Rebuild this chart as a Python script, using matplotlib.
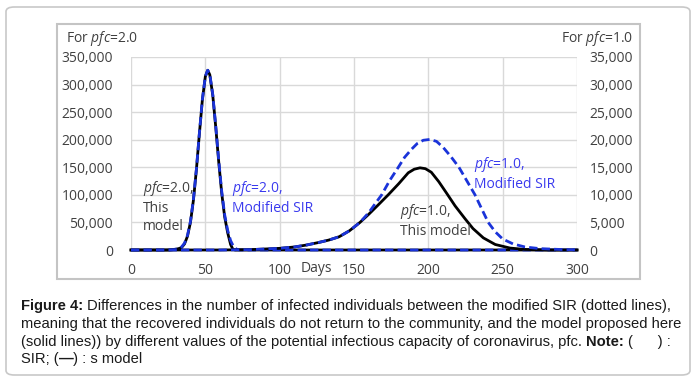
import matplotlib
matplotlib.use('Agg')
import matplotlib.pyplot as plt
from matplotlib.patches import Rectangle, FancyBboxPatch

plt.rcParams['font.family'] = ['Open Sans', 'DejaVu Sans']
plt.rcParams['mathtext.fontset'] = 'custom'
plt.rcParams['mathtext.rm'] = 'Open Sans'
plt.rcParams['mathtext.it'] = 'Open Sans:italic'

# pfc = 2.0 (left axis)
days_model2 = [0, 20, 24, 26, 28, 30, 32, 34, 36, 38, 40, 42, 44, 46, 48, 50, 51.6,
               53, 55, 57, 59, 61, 63, 65, 67, 68.5, 70, 300]
model2 = [0, 0, 0, 150, 500, 1200, 2500, 4400, 11000, 25000, 50300, 90600, 146000,
          211000, 272000, 314600, 326000, 317800, 280600, 223000, 160000, 103400,
          60100, 31600, 10000, 1500, 0, 0]
days_sir2 = [0, 20, 24, 26, 28, 30, 32, 34, 36, 38, 40, 42, 44, 46, 48, 50, 51.6,
             53, 55, 57, 59, 61, 63, 65, 67, 69, 71, 73, 300]
sir2 = [0, 0, 100, 300, 700, 1600, 3000, 5500, 12500, 26500, 52000, 92000, 147000,
        212000, 273000, 315000, 326000, 318500, 282000, 225000, 163000, 107000,
        64000, 36000, 17000, 6000, 1500, 0, 0]

# pfc = 1.0 (right axis)
days_model1 = [0, 60, 80, 100, 110, 118, 126, 133, 140, 147, 154, 160, 166, 173, 180,
               186.5, 190.5, 194.4, 198, 202, 207, 212.3, 218, 224.6, 230, 237, 245,
               255, 265, 280, 300]
model1 = [0, 0, 60, 300, 550, 900, 1350, 1800, 2400, 3500, 5000, 6500, 8100, 10000,
          12000, 14000, 14650, 14900, 14750, 14100, 12400, 10300, 8000, 5700, 3900,
          2200, 1000, 350, 100, 0, 0]
days_sir1 = [0, 60, 80, 100, 110, 118, 126, 133, 140, 147, 154, 160, 164, 168.6, 174,
             179.8, 184, 188.8, 192.5, 196.6, 201, 205.5, 210, 215, 220.6, 226, 231.4,
             236, 240.3, 245, 250, 257, 265, 275, 290, 300]
sir1 = [0, 0, 60, 300, 550, 900, 1350, 1800, 2400, 3500, 5000, 6800, 8300, 10000,
        12600, 15000, 16800, 18300, 19300, 19900, 20050, 19700, 18600, 17000, 15000,
        12500, 10000, 7400, 5000, 3300, 2000, 1100, 550, 250, 80, 40]

left_ticks = [0, 50000, 100000, 150000, 200000, 250000, 300000, 350000]
right_ticks = [0, 5000, 10000, 15000, 20000, 25000, 30000, 35000]
x_ticks = [0, 50, 100, 150, 200, 250, 300]

black = '#000000'
blue = '#1a33d9'
blue_txt = '#3a3aee'
txt = '#404040'

fig = plt.figure(figsize=(6.96, 3.80), dpi=100)

# outer rounded frame and inner chart frame
fig.patches.append(FancyBboxPatch((6 / 696, 5 / 380), 684 / 696, 368 / 380,
                                  boxstyle='round,pad=0,rounding_size=0.012',
                                  transform=fig.transFigure, fill=False,
                                  edgecolor='#c8c8c8', linewidth=1.2))
fig.patches.append(Rectangle((57 / 696, 101 / 380), 583 / 696, 255 / 380,
                             transform=fig.transFigure, fill=False,
                             edgecolor='#c4c4c4', linewidth=1.5))

ax = fig.add_axes([131 / 696, 130 / 380, 446 / 696, 193 / 380])
ax2 = ax.twinx()

ax.plot(days_model2, model2, color=black, lw=2.0, clip_on=False, zorder=3)
ax.plot(days_sir2, sir2, color=blue, lw=2.0, ls=(0, (3, 1.5)), clip_on=False, zorder=4)
ax2.plot(days_model1, model1, color=black, lw=2.0, clip_on=False, zorder=3)
ax2.plot(days_sir1, sir1, color=blue, lw=2.0, ls=(0, (3, 1.5)), clip_on=False, zorder=4)

ax.set_xlim(0, 300)
ax.set_ylim(0, 350000)
ax2.set_ylim(0, 35000)
ax.set_xticks(x_ticks)
ax.set_yticks(left_ticks)
ax2.set_yticks(right_ticks)
ax.set_yticklabels([f'{v:,}' for v in left_ticks])
ax2.set_yticklabels([f'{v:,}' for v in right_ticks])
ax.grid(True, color='#d9d9d9', lw=1.0)
ax.set_axisbelow(True)
for a in (ax, ax2):
    for s in a.spines.values():
        s.set_visible(False)
ax.tick_params(axis='both', length=0, labelsize=10, colors=txt)
ax.tick_params(axis='y', pad=13)
ax.tick_params(axis='x', pad=9)
ax2.tick_params(axis='y', length=0, labelsize=10, colors=txt, pad=9)

ax.text(125, -0.055, 'Days', transform=ax.get_xaxis_transform(), ha='center',
        va='top', fontsize=10, color=txt)

fig.text(66 / 696, 1 - 39 / 380, r'For $\mathit{pfc}$=2.0', ha='left', va='center',
         fontsize=10, color=txt)
fig.text(633 / 696, 1 - 39 / 380, r'For $\mathit{pfc}$=1.0', ha='right', va='center',
         fontsize=10, color=txt)

# curve labels
fig.text(143 / 696, 1 - 179 / 380, '$\\mathit{pfc}$=2.0,\nThis\nmodel',
         ha='left', va='top', fontsize=10, color=txt, linespacing=1.25)
fig.text(232 / 696, 1 - 179 / 380, '$\\mathit{pfc}$=2.0,\nModified SIR',
         ha='left', va='top', fontsize=10, color=blue_txt, linespacing=1.25)
fig.text(474 / 696, 1 - 155 / 380, '$\\mathit{pfc}$=1.0,\nModified SIR',
         ha='left', va='top', fontsize=10, color=blue_txt, linespacing=1.25)
fig.text(400 / 696, 1 - 202 / 380, '$\\mathit{pfc}$=1.0,\nThis model',
         ha='left', va='top', fontsize=10, color=txt, linespacing=1.25)

# caption, bold and normal pieces placed one after the other
cap_font = ['Liberation Sans', 'DejaVu Sans']
cap_size = 10.6
cap_color = '#1a1a1a'
lines = [
    [('Figure 4:', 'bold'), ('Differences in the number of infected individuals between the modified SIR (dotted lines),', 'normal')],
    [('meaning that the recovered individuals do not return to the community, and the model proposed here', 'normal')],
    [('(solid lines)) by different values of the potential infectious capacity of coronavirus, pfc.', 'normal'),
     ('Note:', 'bold'), ('(      ) :', 'normal')],
    [('SIR; (', 'normal'), ('\u2014', 'bold'), (') : s model', 'normal')],
]
gaps = [[0, 1], [0], [0, 1, 1], [0, 0, 0]]
line_y = [310, 328, 346, 363]

renderer = fig.canvas.get_renderer()
probe1 = fig.text(0, 0, 'a a', fontsize=cap_size, family=cap_font)
probe2 = fig.text(0, 0, 'aa', fontsize=cap_size, family=cap_font)
space_px = probe1.get_window_extent(renderer).width - probe2.get_window_extent(renderer).width
probe1.remove()
probe2.remove()

for parts, gp, yy in zip(lines, gaps, line_y):
    x_px = 21.0
    for (s, w), g in zip(parts, gp):
        x_px += g * space_px
        t = fig.text(x_px / 696, 1 - yy / 380, s, ha='left', va='baseline',
                     fontsize=cap_size, fontweight=w, color=cap_color, family=cap_font)
        x_px = t.get_window_extent(renderer).x1

plt.savefig('out.png', dpi=100)
